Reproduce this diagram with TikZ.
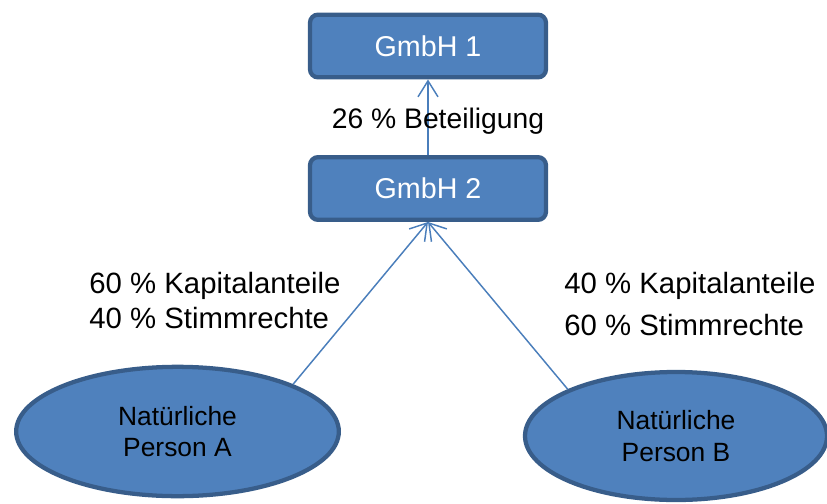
\documentclass[tikz,border=0pt]{standalone}
\usepackage{fontspec}
\setmainfont{Liberation Sans}
\usetikzlibrary{shapes.geometric,arrows.meta}

\definecolor{boxfill}{RGB}{79,129,189}
\definecolor{boxline}{RGB}{56,93,138}
\definecolor{arrowline}{RGB}{74,126,187}

\begin{document}
\begin{tikzpicture}[x=0.75pt,y=0.75pt,yscale=-1,xscale=1,
  gmbhbox/.style={draw=boxline,fill=boxfill,line width=3.2pt,rounded corners=6pt,
    minimum width=177pt,minimum height=47pt,text=white,font=\fontsize{21.5}{25.8}\selectfont},
  personbox/.style={ellipse,draw=boxline,fill=boxfill,line width=3.2pt,inner sep=0pt,
    align=center,font=\fontsize{19.8}{23.4}\selectfont},
  share/.style={align=left,font=\fontsize{22}{26.25}\selectfont},
  owns/.style={draw=arrowline,line width=1.1pt,-{Straight Barb[length=12pt,width=15pt]}}]
\useasboundingbox (0,0) rectangle (827,503);

% Companies
\node (gmbh1) [gmbhbox] at (428,46) {GmbH 1};
\node (gmbh2) [gmbhbox] at (428,188.5) {GmbH 2};

% Shareholders
\node (personA) [personbox,minimum width=242pt,minimum height=97pt] at (177.5,431.5) {Natürliche\\Person A};
\node (personB) [personbox,minimum width=226.5pt,minimum height=96pt] at (676,436) {Natürliche\\Person B};

% Holdings
\draw [owns] (gmbh2.north) -- (gmbh1.south);
\draw [owns] (personA.north east) -- (gmbh2.south);
\draw [owns] (personB.north west) -- (gmbh2.south);

% Text Node
\node (beteiligung) [share,font=\fontsize{21.2}{25.4}\selectfont] at (438,121) {26 \% Beteiligung};
% Text Node
\node (anteilA) [share] at (215,300.5) {60 \% Kapitalanteile\\40 \% Stimmrechte};
% Text Node
\node (anteilB) [share] at (690,304) {40 \% Kapitalanteile\\[5.25pt]60 \% Stimmrechte};

\end{tikzpicture}
\end{document}
